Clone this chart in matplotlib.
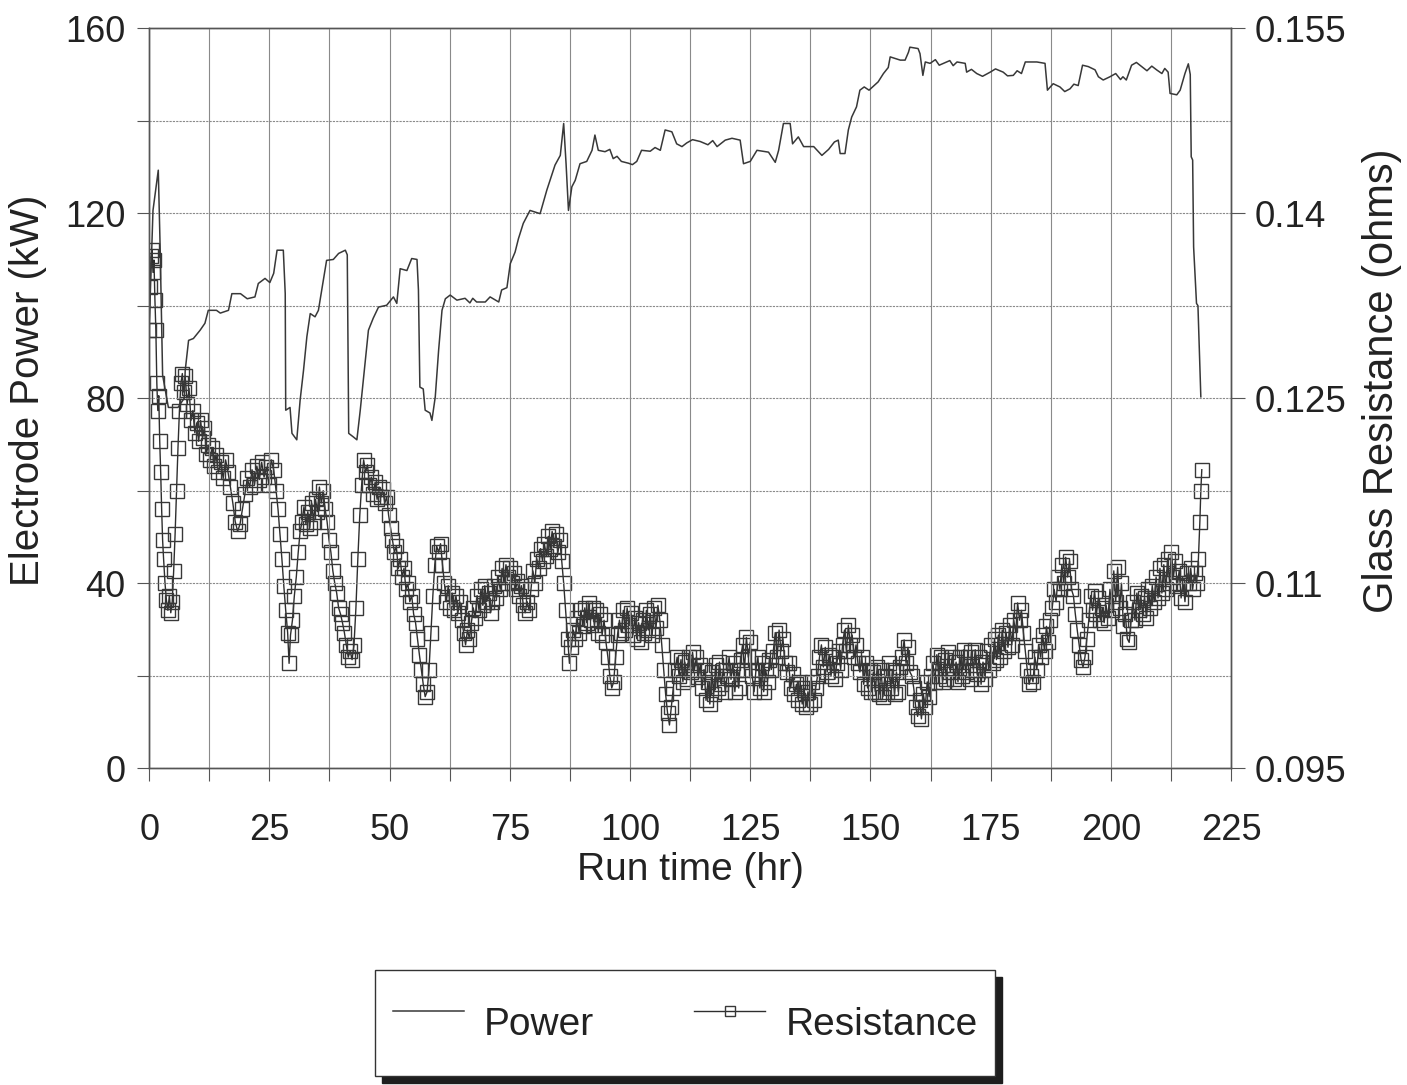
import matplotlib.pyplot as plt
from matplotlib.patches import Rectangle
from matplotlib.ticker import MultipleLocator

plt.rcParams['font.family'] = ['Liberation Sans', 'DejaVu Sans']

# electrode power: (run time hr, kW)
power = [
    (0, 95), (0.8, 120.6), (1.9, 129.3), (2.3, 112), (2.8, 85), (4, 78), (6, 78), (7.3, 80),
    (7.5, 86), (8.2, 92.5), (9.2, 92.9), (10.6, 94.7), (11.6, 96.2), (12.3, 99), (14.0, 99),
    (14.8, 98.4), (16.5, 99), (17.2, 102.6), (19, 102.6), (20.4, 101.5), (22, 101.9),
    (22.7, 104.8), (24.1, 105.9), (25.1, 105), (25.9, 107), (26.6, 112), (27.9, 112),
    (28.3, 102.6), (28.4, 77.4), (29.3, 78), (29.7, 72.4), (30.7, 71), (31.4, 79.6), (32.1, 86),
    (32.8, 93.3), (33.5, 98.3), (34.5, 97.6), (35.2, 99), (35.9, 103.4), (36.9, 109.8),
    (38.3, 110), (39.4, 111.3), (40.8, 112), (41.2, 111), (41.5, 72.4), (42.5, 71.6), (43.2, 71),
    (43.9, 77.4), (44.9, 87.5), (45.6, 94.7), (46.6, 97.3), (47.7, 99.7), (49.4, 100.1),
    (50.8, 101.9), (51.5, 100.5), (52.2, 108), (53.6, 107.6), (54.6, 110.2), (55.7, 110),
    (56.0, 103.4), (56.3, 82.4), (57.0, 82), (57.4, 77.4), (58.4, 76.8), (58.8, 75.2),
    (59.5, 80.3), (60.2, 90.4), (60.9, 99), (61.6, 101.5), (62.6, 102.3), (64, 101.2),
    (65.7, 101.6), (66.7, 100.6), (67.3, 101.6), (68.1, 100.8), (69.9, 100.8), (70.9, 101.9),
    (72.7, 100.8), (73.3, 103.4), (74.4, 103.9), (75.1, 109.1), (76.1, 111.6), (76.8, 114.5),
    (77.8, 117.8), (79.2, 120.6), (81.3, 119.9), (82.7, 125), (84.4, 130.4), (85.5, 132.5),
    (86.2, 139.4), (86.7, 130.7), (87.2, 120.6), (87.9, 125.7), (88.6, 127.1), (89.6, 130.7),
    (91, 131.2), (92.1, 133.6), (92.7, 136.9), (93.4, 133.6), (94.8, 133.3), (95.8, 133.8),
    (96.5, 131.8), (97.3, 132.3), (98.2, 131.2), (99.7, 130.8), (100.5, 130.5), (101.4, 131.2),
    (102.4, 133.6), (104.2, 133.4), (105.2, 134.2), (106.3, 133.6), (107.3, 138), (108.7, 137.6),
    (109.7, 135), (110.8, 134.4), (111.8, 135.2), (113.0, 135.9), (114.6, 135.5), (116.2, 134.8),
    (117.2, 135.7), (118.1, 134.4), (119.8, 135.8), (121.2, 136.2), (122.9, 135.8),
    (123.6, 130.7), (125, 131.2), (126.4, 133.6), (128.8, 133.2), (130.2, 131), (130.9, 133.6),
    (131.9, 139.4), (133.3, 139.4), (133.8, 135), (135, 136.5), (136.1, 134.4), (138.2, 134.4),
    (139.9, 132.5), (141.3, 133.8), (142.5, 135.4), (143.3, 135.8), (143.7, 132.9),
    (144.7, 132.9), (145.4, 138), (146.1, 140.8), (147.1, 143), (147.8, 146.6), (148.7, 147.3),
    (149.7, 146.6), (151.6, 148.4), (152.7, 150.2), (153.7, 151.5), (154.1, 153.8),
    (156.2, 153.1), (157.2, 153.1), (157.9, 154.8), (158.2, 155.9), (159.9, 155.6),
    (160.3, 154.5), (160.9, 149.8), (161.4, 152.7), (162.4, 152.4), (163.5, 153.2),
    (164.3, 152.0), (165.2, 152.4), (166.5, 153.0), (167.2, 151.9), (168, 152.7), (169.7, 152.4),
    (170, 150.5), (171.0, 151.1), (172.1, 150.2), (173.3, 149.6), (174.9, 150.5), (176.0, 151.2),
    (177.6, 150.5), (178.5, 149.7), (179.7, 149.8), (180.5, 150.8), (181.4, 150.2),
    (182.2, 152.7), (184.6, 152.7), (186.3, 152.4), (186.8, 146.6), (188.0, 148.0),
    (189.4, 147.3), (190.4, 146.3), (191.5, 146.9), (192.3, 147.9), (193.2, 147.6), (194.1, 152),
    (195.3, 151.7), (196.7, 151), (197.4, 149.5), (198.4, 148.8), (199.8, 149.5), (201.0, 150.2),
    (202.0, 148.9), (202.5, 149.5), (203.2, 148.8), (204.3, 152), (205.3, 152.6), (206.4, 151.7),
    (207.5, 150.8), (208.5, 151.8), (209.5, 151), (210.6, 150.2), (211.2, 151.3), (211.9, 150.5),
    (212.3, 145.9), (213.7, 145.6), (214.4, 146.6), (215.4, 150.2), (216.1, 152.3), (216.5, 150),
    (216.7, 132.2), (217.0, 131.5), (217.2, 112.7), (217.8, 100.5), (218.1, 100), (218.7, 80.3),
]

# glass resistance: (run time hr, ohms)
resistance = [
    (0.0, .1305), (0.2, .1340), (0.4, .1365), (0.6, .1370), (0.8, .1352), (1.0, .1362),
    (1.2, .1330), (1.4, .1305), (1.6, .1262), (1.8, .1240), (2.0, .1252), (2.2, .1215),
    (2.4, .1190), (2.6, .1160), (2.8, .1135), (3.0, .1120), (3.3, .1100), (3.6, .1086),
    (3.9, .1078), (4.2, .1090), (4.5, .1076), (4.8, .1085), (5.1, .1110), (5.4, .1140),
    (5.7, .1175), (6.0, .1210), (6.3, .1240), (6.6, .1262), (6.9, .1270), (7.2, .1255),
    (7.5, .1268), (7.9, .1245), (8.3, .1258), (8.7, .1232), (9.1, .1240), (9.5, .1222),
    (9.9, .1230), (10.3, .1215), (10.7, .1232), (11.1, .1218), (11.5, .1226), (11.9, .1205),
    (12.3, .1212), (12.7, .1200), (13.1, .1210), (13.5, .1195), (13.9, .1204), (14.4, .1190),
    (14.9, .1198), (15.4, .1185), (15.9, .1200), (16.4, .1190), (16.9, .1178), (17.4, .1165),
    (17.9, .1150), (18.4, .1142), (18.9, .1148), (19.4, .1160), (19.9, .1172), (20.4, .1185),
    (20.9, .1178), (21.4, .1192), (21.9, .1180), (22.4, .1195), (22.9, .1184), (23.4, .1198),
    (23.9, .1186), (24.4, .1194), (24.9, .1180), (25.4, .1200), (25.9, .1192), (26.4, .1175),
    (26.8, .1160), (27.2, .1140), (27.6, .1120), (28.0, .1098), (28.4, .1078), (28.8, .1060),
    (29.1, .1035), (29.4, .1058), (29.8, .1070), (30.2, .1090), (30.6, .1105), (31.0, .1125),
    (31.4, .1142), (31.8, .1150), (32.2, .1162), (32.6, .1148), (33.0, .1158), (33.4, .1145),
    (33.8, .1165), (34.2, .1150), (34.6, .1168), (35.0, .1158), (35.4, .1178), (35.8, .1165),
    (36.2, .1175), (36.6, .1160), (37.0, .1150), (37.4, .1135), (37.8, .1125), (38.2, .1110),
    (38.6, .1100), (39.0, .1092), (39.4, .1080), (39.8, .1075), (40.2, .1068), (40.6, .1060),
    (41.0, .1050), (41.4, .1040), (41.8, .1045), (42.2, .1038), (42.6, .1050), (43.0, .1080),
    (43.4, .1120), (43.8, .1155), (44.2, .1180), (44.6, .1200), (45.0, .1190), (45.4, .1196),
    (45.8, .1180), (46.2, .1186), (46.6, .1172), (47.0, .1182), (47.4, .1168), (47.8, .1178),
    (48.2, .1170), (48.6, .1176), (49.0, .1165), (49.4, .1170), (49.8, .1155), (50.2, .1145),
    (50.6, .1135), (51.0, .1125), (51.4, .1130), (51.8, .1112), (52.2, .1120), (52.6, .1105),
    (53.0, .1112), (53.4, .1095), (53.8, .1100), (54.2, .1085), (54.6, .1090), (55.0, .1075),
    (55.4, .1068), (55.8, .1055), (56.2, .1042), (56.6, .1030), (57.0, .1018), (57.4, .1008),
    (57.8, .1012), (58.2, .1030), (58.6, .1060), (59.0, .1090), (59.4, .1115), (59.8, .1130),
    (60.2, .1125), (60.6, .1132), (61.0, .1115), (61.4, .1100), (61.8, .1085), (62.2, .1098),
    (62.6, .1080), (63.0, .1092), (63.4, .1078), (63.8, .1090), (64.2, .1076), (64.6, .1085),
    (65.0, .1070), (65.4, .1060), (65.8, .1050), (66.2, .1062), (66.6, .1055), (67.0, .1068),
    (67.4, .1080), (67.8, .1072), (68.2, .1090), (68.6, .1078), (69.0, .1095), (69.4, .1082),
    (69.8, .1098), (70.2, .1085), (70.6, .1092), (71.0, .1076), (71.4, .1085), (71.8, .1098),
    (72.2, .1088), (72.6, .1105), (73.0, .1095), (73.4, .1112), (73.8, .1100), (74.2, .1115),
    (74.6, .1105), (75.0, .1112), (75.4, .1100), (75.8, .1108), (76.2, .1095), (76.6, .1102),
    (77.0, .1090), (77.4, .1098), (77.8, .1082), (78.2, .1076), (78.6, .1085), (79.0, .1078),
    (79.4, .1095), (79.8, .1110), (80.2, .1100), (80.6, .1120), (81.0, .1112), (81.4, .1128),
    (81.8, .1118), (82.2, .1132), (82.6, .1122), (83.0, .1138), (83.4, .1128), (83.8, .1142),
    (84.2, .1130), (84.6, .1140), (85.0, .1125), (85.4, .1135), (85.8, .1118), (86.2, .1100),
    (86.6, .1078), (87.0, .1055), (87.4, .1035), (87.8, .1048), (88.2, .1062), (88.6, .1055),
    (89.0, .1072), (89.4, .1060), (89.8, .1078), (90.2, .1065), (90.6, .1080), (91.0, .1068),
    (91.4, .1084), (91.8, .1070), (92.2, .1080), (92.6, .1066), (93.0, .1078), (93.4, .1060),
    (93.8, .1075), (94.2, .1058), (94.6, .1070), (95.0, .1052), (95.4, .1040), (95.8, .1025),
    (96.2, .1015), (96.6, .1020), (97.0, .1040), (97.4, .1058), (97.8, .1070), (98.2, .1060),
    (98.6, .1078), (99.0, .1062), (99.4, .1080), (99.8, .1066), (100.2, .1076), (100.6, .1058),
    (101.0, .1072), (101.4, .1055), (101.8, .1068), (102.2, .1052), (102.6, .1070),
    (103.0, .1060), (103.4, .1078), (103.8, .1062), (104.2, .1075), (104.6, .1058),
    (105.0, .1080), (105.4, .1064), (105.8, .1082), (106.2, .1070), (106.6, .1050),
    (107.0, .1030), (107.4, .1010), (107.8, .0995), (108.2, .0985), (108.6, .1000),
    (109.0, .1015), (109.4, .1030), (109.8, .1040), (110.2, .1025), (110.6, .1038),
    (111.0, .1020), (111.4, .1036), (111.8, .1022), (112.2, .1040), (112.6, .1028),
    (113.0, .1044), (113.4, .1030), (113.8, .1040), (114.2, .1024), (114.6, .1034),
    (115.0, .1015), (115.4, .1030), (115.8, .1005), (116.2, .1020), (116.6, .1002),
    (117.0, .1028), (117.4, .1010), (117.8, .1034), (118.2, .1015), (118.6, .1036),
    (119.0, .1018), (119.4, .1030), (119.8, .1012), (120.2, .1025), (120.6, .1040),
    (121.0, .1022), (121.4, .1035), (121.8, .1012), (122.2, .1030), (122.6, .1015),
    (123.0, .1038), (123.4, .1050), (123.8, .1030), (124.2, .1056), (124.6, .1040),
    (125.0, .1052), (125.4, .1025), (125.8, .1012), (126.2, .1030), (126.6, .1040),
    (127.0, .1015), (127.4, .1035), (127.8, .1012), (128.2, .1030), (128.6, .1020),
    (129.0, .1038), (129.4, .1030), (129.8, .1045), (130.2, .1060), (130.6, .1040),
    (131.0, .1062), (131.4, .1045), (131.8, .1055), (132.2, .1035), (132.6, .1028),
    (133.0, .1035), (133.4, .1015), (133.8, .1026), (134.2, .1010), (134.6, .1018),
    (135.0, .1005), (135.4, .1020), (135.8, .1002), (136.2, .1015), (136.6, .1000),
    (137.0, .1012), (137.4, .1002), (137.8, .1020), (138.2, .1005), (138.6, .1015),
    (139.0, .1025), (139.4, .1040), (139.8, .1050), (140.2, .1032), (140.6, .1048),
    (141.0, .1028), (141.4, .1042), (141.8, .1025), (142.2, .1040), (142.6, .1022),
    (143.0, .1035), (143.4, .1045), (143.8, .1030), (144.2, .1050), (144.6, .1062),
    (145.0, .1045), (145.4, .1066), (145.8, .1050), (146.2, .1058), (146.6, .1040),
    (147.0, .1050), (147.4, .1035), (147.8, .1028), (148.2, .1040), (148.6, .1018),
    (149.0, .1035), (149.4, .1015), (149.8, .1030), (150.2, .1012), (150.6, .1028),
    (151.0, .1012), (151.4, .1032), (151.8, .1010), (152.2, .1030), (152.6, .1008),
    (153.0, .1025), (153.4, .1012), (153.8, .1035), (154.2, .1015), (154.6, .1030),
    (155.0, .1010), (155.4, .1028), (155.8, .1012), (156.2, .1032), (156.6, .1040),
    (157.0, .1054), (157.4, .1035), (157.8, .1048), (158.2, .1028), (158.6, .1025),
    (159.0, .1015), (159.4, .1000), (159.8, .0992), (160.2, .1005), (160.6, .0990),
    (161.0, .1010), (161.4, .1000), (161.8, .1020), (162.2, .1008), (162.6, .1025),
    (163.0, .1035), (163.4, .1020), (163.8, .1042), (164.2, .1025), (164.6, .1040),
    (165.0, .1020), (165.4, .1038), (165.8, .1022), (166.2, .1044), (166.6, .1028),
    (167.0, .1040), (167.4, .1022), (167.8, .1036), (168.2, .1020), (168.6, .1040),
    (169.0, .1025), (169.4, .1046), (169.8, .1028), (170.2, .1040), (170.6, .1022),
    (171.0, .1044), (171.4, .1030), (171.8, .1046), (172.2, .1026), (172.6, .1040),
    (173.0, .1018), (173.4, .1036), (173.8, .1022), (174.2, .1045), (174.6, .1030),
    (175.0, .1050), (175.4, .1035), (175.8, .1055), (176.2, .1038), (176.6, .1058),
    (177.0, .1040), (177.4, .1062), (177.8, .1045), (178.2, .1060), (178.6, .1048),
    (179.0, .1066), (179.4, .1050), (179.8, .1070), (180.2, .1060), (180.6, .1084),
    (181.0, .1070), (181.4, .1078), (181.8, .1060), (182.2, .1045), (182.6, .1030),
    (183.0, .1018), (183.4, .1025), (183.8, .1020), (184.2, .1040), (184.6, .1030),
    (185.0, .1050), (185.4, .1040), (185.8, .1058), (186.2, .1045), (186.6, .1065),
    (187.0, .1052), (187.4, .1070), (187.8, .1080), (188.2, .1095), (188.6, .1085),
    (189.0, .1105), (189.4, .1095), (189.8, .1115), (190.2, .1100), (190.6, .1121),
    (191.0, .1105), (191.4, .1118), (191.8, .1095), (192.2, .1090), (192.6, .1075),
    (193.0, .1062), (193.4, .1050), (193.8, .1038), (194.2, .1032), (194.6, .1040),
    (195.0, .1055), (195.4, .1070), (195.8, .1090), (196.2, .1078), (196.6, .1094),
    (197.0, .1075), (197.4, .1088), (197.8, .1070), (198.2, .1080), (198.6, .1068),
    (199.0, .1082), (199.4, .1072), (199.8, .1095), (200.2, .1078), (200.6, .1110),
    (201.0, .1085), (201.4, .1113), (201.8, .1080), (202.2, .1100), (202.6, .1065),
    (203.0, .1075), (203.4, .1055), (203.8, .1052), (204.2, .1070), (204.6, .1085),
    (205.0, .1070), (205.4, .1092), (205.8, .1078), (206.2, .1090), (206.6, .1075),
    (207.0, .1088), (207.4, .1072), (207.8, .1095), (208.2, .1080), (208.6, .1098),
    (209.0, .1085), (209.4, .1105), (209.8, .1088), (210.2, .1112), (210.6, .1092),
    (211.0, .1115), (211.4, .1095), (211.8, .1120), (212.2, .1100), (212.6, .1125),
    (213.0, .1105), (213.4, .1118), (213.8, .1098), (214.2, .1110), (214.6, .1088),
    (215.0, .1100), (215.4, .1085), (215.8, .1108), (216.2, .1100), (216.6, .1112),
    (217.0, .1095), (217.4, .1108), (217.8, .1100), (218.2, .1120), (218.5, .1150),
    (218.7, .1175), (218.9, .1192),
]

x_ticks = [0, 25, 50, 75, 100, 125, 150, 175, 200, 225]
kw_ticks = [0, 40, 80, 120, 160]
ohm_ticks = [0.095, 0.11, 0.125, 0.14, 0.155]
ohm_labels = ['0.095', '0.11', '0.125', '0.14', '0.155']

power_t, power_kw = zip(*power)
res_t, res_ohm = zip(*resistance)

fig = plt.figure(figsize=(14.07, 10.85), dpi=100)
ax = fig.add_axes([0.106, 0.292, 0.769, 0.682])
ax2 = ax.twinx()
# power line sits on top of the resistance markers
ax.set_zorder(ax2.get_zorder() + 1)
ax.patch.set_visible(False)

ax.plot(power_t, power_kw, color='#383838', lw=1.1, label='Power')
ax2.plot(res_t, res_ohm, color='#2e2e2e', lw=1.0, marker='s', ms=10,
         mfc='none', mec='#383838', mew=1.0, label='Resistance')

ax.set_xlim(0, 225)
ax.set_ylim(0, 160)
ax2.set_ylim(0.095, 0.155)
ax.set_xticks(x_ticks)
ax.xaxis.set_minor_locator(MultipleLocator(12.5))
ax.set_yticks(kw_ticks)
ax.yaxis.set_minor_locator(MultipleLocator(20))
ax2.set_yticks(ohm_ticks)
ax2.set_yticklabels(ohm_labels)

ax.grid(True, which='both', axis='x', color='#8a8a8a', lw=0.8)
ax.grid(True, which='both', axis='y', color='#8a8a8a', lw=0.8, ls=(0, (2, 1)))

ax.tick_params(axis='both', which='both', direction='out', length=9, width=0.8,
               color='#555555', labelsize=26, labelcolor='#222222')
ax.tick_params(axis='y', pad=8)
ax.tick_params(axis='x', pad=23.5)
ax2.tick_params(axis='y', direction='out', length=10, width=0.8, color='#555555',
                labelsize=26.5, labelcolor='#222222', pad=7)
for a in (ax, ax2):
    for s in a.spines.values():
        s.set_color('#555555')
        s.set_linewidth(1.0)

ax.set_xlabel('Run time (hr)', fontsize=28, color='#222222', labelpad=2.5)
ax.set_ylabel('Electrode Power (kW)', fontsize=29, color='#222222')
ax2.set_ylabel('Glass Resistance (ohms)', fontsize=30, color='#222222')
ax.yaxis.set_label_coords(-0.094, 0.511)
ax2.yaxis.set_label_coords(1.121, 0.524)

h1, l1 = ax.get_legend_handles_labels()
h2, l2 = ax2.get_legend_handles_labels()
leg = fig.legend(h1 + h2, l1 + l2, loc='center', bbox_to_anchor=(0.487, 0.057), ncol=2,
                 fontsize=28, frameon=True, fancybox=False, edgecolor='#333333',
                 framealpha=1, handlelength=1.83, handletextpad=0.52, columnspacing=2.57,
                 borderpad=0.45, handleheight=2.45, markerscale=0.66)
leg.get_frame().set_linewidth(1.0)
for t in leg.get_texts():
    t.set_color('#222222')

fig.canvas.draw()
bb = leg.get_window_extent().transformed(fig.transFigure.inverted())
dx = 7 / fig.bbox.width
dy = 7 / fig.bbox.height
fig.add_artist(Rectangle((bb.x0 + dx, bb.y0 - dy), bb.width, bb.height,
                         transform=fig.transFigure, color='#1e1e1e', zorder=4))

fig.savefig('out.png', dpi=100)
